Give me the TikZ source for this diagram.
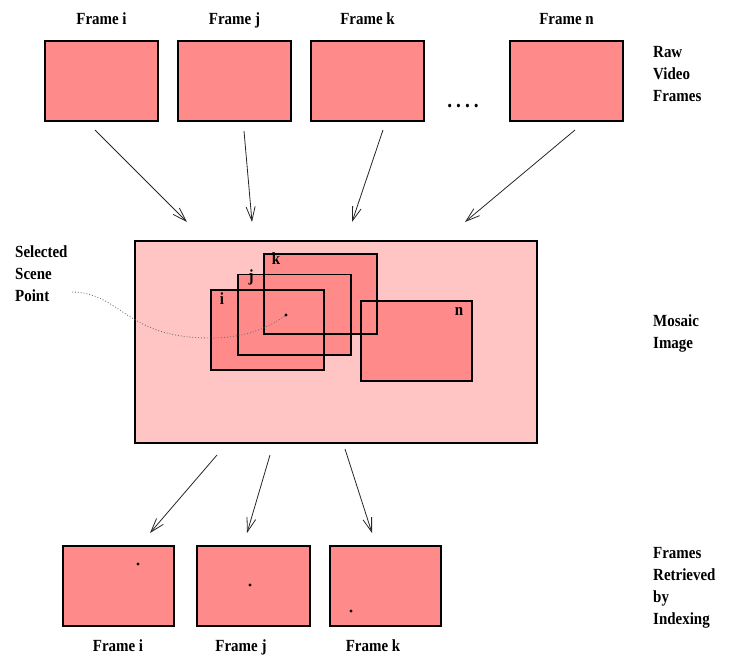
\documentclass[tikz,border=0pt]{standalone}
\usepackage{fontspec}
\setmainfont{Liberation Serif}[FakeStretch=0.88]
\usetikzlibrary{arrows.meta}
\definecolor{framefill}{RGB}{255,138,138}
\definecolor{mosaicfill}{RGB}{255,196,196}
\begin{document}
\begin{tikzpicture}[x=1pt,y=-1pt,
  lbl/.style={font=\fontsize{17}{22}\selectfont\bfseries, inner sep=0pt, anchor=base},
  side/.style={font=\fontsize{17}{22}\selectfont\bfseries, inner sep=0pt, align=left, anchor=north west},
  framebox/.style={draw=black, line width=1.5pt, fill=framefill, minimum width=113pt, minimum height=80pt, inner sep=0pt},
  innerfill/.style={fill=framefill, minimum width=#1, minimum height=80pt, inner sep=0pt},
  outline/.style={draw=black, line width=1.6pt},
  arr/.style={draw=black!85, line width=0.8pt, -{Straight Barb[length=14pt,width=9pt]}},
  pt/.style={circle, fill=black, inner sep=0pt, minimum size=3.4pt}
]
\useasboundingbox (0,0) rectangle (742,659);

% top frames
\node[framebox] (ti) at (101.5,81) {};
\node[framebox] (tj) at (234.5,81) {};
\node[framebox] (tk) at (367.5,81) {};
\node[framebox] (tn) at (566.5,81) {};
\node[lbl] (lti) at (101.5,24) {Frame i};
\node[lbl] (ltj) at (234.5,24) {Frame j};
\node[lbl] (ltk) at (367.5,24) {Frame k};
\node[lbl] (ltn) at (566.5,24) {Frame n};
\node[lbl, font=\fontsize{22}{22}\selectfont\bfseries] (dots) at (463,107) {.\hspace{4pt}.\hspace{4pt}.\hspace{4pt}.};
\node[side] (raw) at (653,46) {Raw\\Video\\Frames};

% mosaic
\node[draw=black, line width=1.5pt, fill=mosaicfill, minimum width=402pt, minimum height=202pt, inner sep=0pt] (mosaic) at (336,342) {};
\node[innerfill=113pt] (mi) at (267.5,330) {};
\node[innerfill=113pt] (mj) at (294.5,314.5) {};
\node[innerfill=113pt] (mk) at (320.5,294) {};
\node[innerfill=111pt] (mn) at (416.5,341) {};
\draw[outline] (mi.north west) rectangle (mi.south east);
\draw[outline] (mj.north west) rectangle (mj.south east);
\draw[outline] (mk.north west) rectangle (mk.south east);
\draw[outline] (mn.north west) rectangle (mn.south east);
\node[lbl] (lmk) at (276,264) {k};
\node[lbl] (lmj) at (251,281) {j};
\node[lbl] (lmi) at (222,304) {i};
\node[lbl] (lmn) at (459,315) {n};
\node[pt] (sp) at (286,315) {};
\node[side] (msl) at (653,314) {Mosaic\\Image};

% selected scene point
\node[side] (ssp) at (15,245) {Selected\\Scene\\Point};
\coordinate (sps) at (72,292);
\draw[dotted, black!55, line width=0.9pt] (sps) .. controls (122,293) and (125,338) .. (210,338) .. controls (245,338) and (268,328) .. (sp);

% top arrows
\coordinate (a1s) at (95,130);  \coordinate (a1e) at (187,222);
\coordinate (a2s) at (244,131); \coordinate (a2e) at (252,222);
\coordinate (a3s) at (383,130); \coordinate (a3e) at (352,222);
\coordinate (a4s) at (575,130); \coordinate (a4e) at (465,222);
\draw[arr] (a1s) -- (a1e);
\draw[arr] (a2s) -- (a2e);
\draw[arr] (a3s) -- (a3e);
\draw[arr] (a4s) -- (a4e);

% bottom frames
\node[framebox, minimum width=111pt] (bi) at (118.5,586) {};
\node[framebox] (bj) at (253.5,586) {};
\node[framebox, minimum width=111pt] (bk) at (385.5,586) {};
\node[pt] (pbi) at (138,564) {};
\node[pt] (pbj) at (250,585) {};
\node[pt] (pbk) at (351,611) {};
\node[lbl] (lbi) at (118,651) {Frame i};
\node[lbl] (lbj) at (241,651) {Frame j};
\node[lbl] (lbk) at (373,651) {Frame k};
\node[side] (fri) at (653,547) {Frames\\Retrieved\\by\\Indexing};

% bottom arrows
\coordinate (b1s) at (217,455); \coordinate (b1e) at (150,533);
\coordinate (b2s) at (270,455); \coordinate (b2e) at (247,533);
\coordinate (b3s) at (345,449); \coordinate (b3e) at (372,533);
\draw[arr] (b1s) -- (b1e);
\draw[arr] (b2s) -- (b2e);
\draw[arr] (b3s) -- (b3e);
\end{tikzpicture}
\end{document}
